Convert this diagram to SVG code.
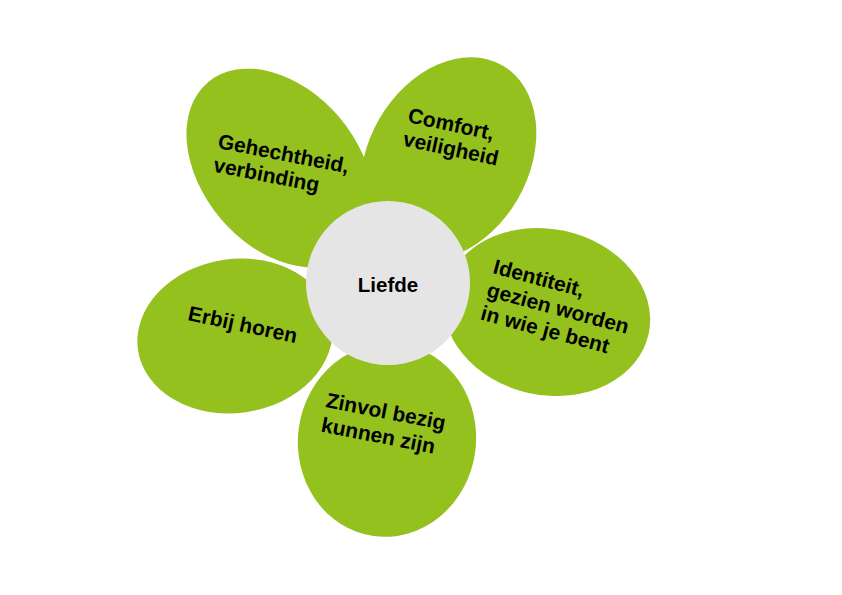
<svg xmlns="http://www.w3.org/2000/svg" width="842" height="595" viewBox="0 0 842 595">
<style>
.petal{fill:#95C11F}
.lbl{font-family:"Liberation Sans",Arial,sans-serif;font-weight:bold;font-size:21px;fill:#000}
.ctr{font-family:"Liberation Sans",Arial,sans-serif;font-weight:bold;font-size:20.5px;fill:#000}
</style>
<rect width="842" height="595" fill="#fff"/>
<g id="connectors"></g>
<g id="petal-gehechtheid">
<ellipse class="petal" cx="280" cy="168" rx="112" ry="78" transform="rotate(50 280 168)"/>
</g>
<g id="petal-comfort">
<ellipse class="petal" cx="448.5" cy="159" rx="80" ry="108" transform="rotate(30 448.5 159)"/>
</g>
<g id="petal-identiteit">
<ellipse class="petal" cx="547" cy="312" rx="104" ry="83" transform="rotate(12 547 312)"/>
</g>
<g id="petal-erbij">
<ellipse class="petal" cx="235" cy="336" rx="98" ry="77" transform="rotate(-8 235 336)"/>
</g>
<g id="petal-zinvol">
<ellipse class="petal" cx="387" cy="440" rx="89" ry="97" transform="rotate(8 387 440)"/>
</g>
<g id="center-liefde">
<circle cx="388" cy="283" r="82" fill="#E5E5E5"/>
<text class="ctr" x="388" y="291.5" text-anchor="middle">Liefde</text>
</g>
<g id="label-gehechtheid" transform="translate(217 148) rotate(11)">
<text class="lbl" x="0" y="0">Gehechtheid,</text>
<text class="lbl" x="0" y="24">verbinding</text>
</g>
<g id="label-comfort" transform="translate(407 122) rotate(12)">
<text class="lbl" x="0" y="0">Comfort,</text>
<text class="lbl" x="0" y="24">veiligheid</text>
</g>
<g id="label-identiteit" transform="translate(492 273) rotate(15)">
<text class="lbl" x="0" y="0">Identiteit,</text>
<text class="lbl" x="0" y="24">gezien worden</text>
<text class="lbl" x="0" y="48">in wie je bent</text>
</g>
<g id="label-erbij" transform="translate(187 320) rotate(12)">
<text class="lbl" x="0" y="0">Erbij horen</text>
</g>
<g id="label-zinvol" transform="translate(325 407) rotate(11)">
<text class="lbl" x="0" y="0">Zinvol bezig</text>
<text class="lbl" x="0" y="25">kunnen zijn</text>
</g>
</svg>
